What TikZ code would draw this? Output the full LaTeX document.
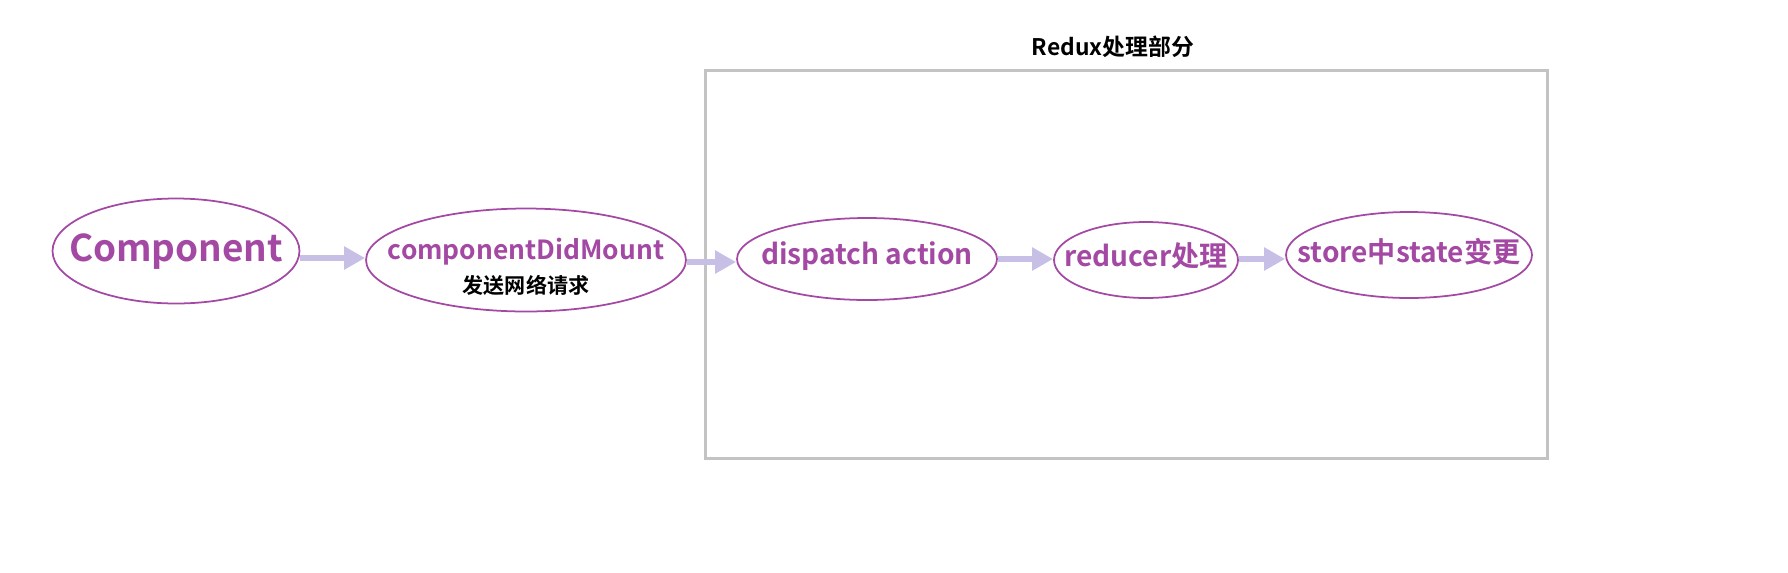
\documentclass[tikz,border=0pt]{standalone}
\usepackage{fontspec}
\setmainfont{Noto Sans CJK SC}[BoldFont={* Bold}]
\usetikzlibrary{positioning, arrows.meta, shapes}
\definecolor{plum}{HTML}{A349A4}
\definecolor{lavender}{HTML}{C8BFE7}
\definecolor{boxgray}{HTML}{C3C3C3}

\begin{document}
\begin{tikzpicture}[
                    x=0.02cm, y=-0.02cm,
                    % GLOBAL CFG
                    font=\bfseries,
                    % Styles
                    stage/.style={% For the ellipses
                            ellipse,
                            draw=plum,
                            line width=1pt,
                            inner sep=0pt,
                        },
                    stext/.style={% Text inside the ellipses
                            text=plum,
                            inner sep=0pt,
                            font=\bfseries\fontsize{16}{18}\selectfont,
                        },
                    part/.style={% For the redux box
                            rectangle,
                            draw=boxgray,
                            line width=1.7pt,
                        },
                    flow/.style={% Fat light arrows
                            lavender,
                            line width=3.4pt,
                            -{Triangle[length=0.42cm, width=0.44cm]},
                        },
                ]
                \useasboundingbox (0,0) rectangle (1788,572);

                % Redux part
                \node [part, minimum width=16.86cm, minimum height=7.78cm] (redux) at (1126.5,264.5) {};
                \node [font=\bfseries\fontsize{13}{15}\selectfont] (title) at (1113,47) {Redux处理部分};

                % Stages
                \node [stage, minimum width=4.94cm, minimum height=2.1cm] (comp) at (176,251) {};
                \node [stext, font=\bfseries\fontsize{21}{24}\selectfont] (compTxt) at (176,252) {Component};
                \node [stage, minimum width=6.4cm, minimum height=2.06cm] (mount) at (526,260) {};
                \node [stext, font=\bfseries\fontsize{15}{17}\selectfont] (mountTxt) at (526,252) {componentDidMount};
                \node [font=\bfseries\fontsize{12}{14}\selectfont] (req) at (526,285) {发送网络请求};
                \node [stage, minimum width=5.2cm, minimum height=1.64cm] (dispatch) at (867,259) {};
                \node [stext] (dispatchTxt) at (867,256) {dispatch action};
                \node [stage, minimum width=3.68cm, minimum height=1.52cm] (reducer) at (1146,260) {};
                \node [stext] (reducerTxt) at (1146,256) {reducer处理};
                \node [stage, minimum width=4.92cm, minimum height=1.72cm] (store) at (1409,255) {};
                \node [stext] (storeTxt) at (1409,252) {store中state变更};

                % Arrows
                \draw [flow] (comp.east |- 0,258) -- (mount.west |- 0,258);
                \draw [flow] (mount.east |- 0,262) -- (dispatch.west |- 0,262);
                \draw [flow] (dispatch.east |- 0,259) -- (reducer.west |- 0,259);
                \draw [flow] (reducer.east |- 0,259) -- (store.west |- 0,259);

            \end{tikzpicture}
\end{document}
